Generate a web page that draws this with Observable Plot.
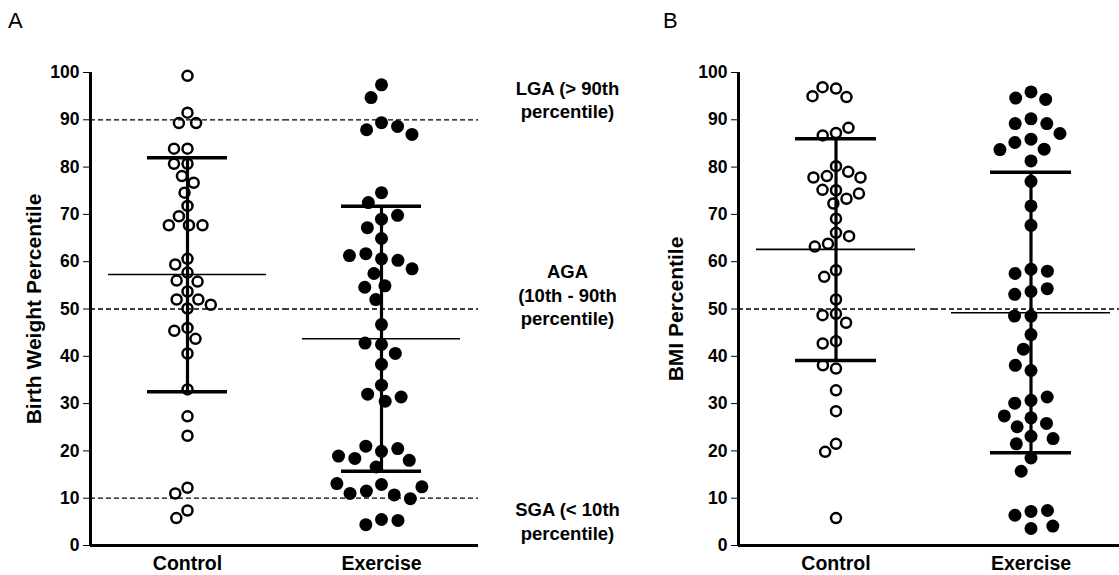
<!DOCTYPE html>
<html><head><meta charset="utf-8">
<script src="https://cdn.jsdelivr.net/npm/d3@7"></script>
<script src="https://cdn.jsdelivr.net/npm/@observablehq/plot@0.6"></script>
<style>
body{margin:0;background:#fff;width:1119px;height:575px;overflow:hidden;position:relative;font-family:'Liberation Sans',Arial,sans-serif}
.panel{position:absolute;top:0}
.panel svg{max-width:none !important}
.letter{position:absolute;font-size:22px;color:#000}
</style></head><body>
<div id="a" class="panel" style="left:0px;width:650px"></div>
<div id="b" class="panel" style="left:640px;width:490px"></div>
<div class="letter" style="left:8px;top:8px">A</div>
<div class="letter" style="left:663px;top:8px">B</div>
<script>
const groups = ["Control", "Exercise"];
const yTicks = [0, 10, 20, 30, 40, 50, 60, 70, 80, 90, 100];

// Panel A: birth weight percentile
const birthControl = [99.3, 91.5, 89.3, 89.3, 83.9, 83.9, 80.7, 80.7, 78.1, 76.7, 74.6, 71.8, 69.6,
  67.7, 67.7, 67.7, 60.6, 59.4, 57.7, 56.0, 55.8, 53.7, 52.0, 52.0, 50.9, 50.1, 46.0, 45.4, 43.7,
  40.6, 33.0, 27.3, 23.2, 12.2, 11.0, 7.4, 5.8];
const birthExercise = [97.4, 94.7, 89.4, 87.9, 88.6, 86.9, 74.6, 72.5, 69.0, 69.8, 67.2, 64.9, 60.6,
  61.7, 60.3, 61.3, 58.5, 57.5, 54.9, 54.6, 52.0, 46.7, 42.5, 42.8, 40.6, 38.3, 33.9, 32.0, 30.5,
  31.4, 19.9, 21.0, 20.5, 18.4, 18.0, 18.9, 16.6, 12.9, 11.5, 10.7, 9.9, 11.0, 12.4, 13.1, 5.5, 4.4, 5.3];
const birthMean = [57.3, 43.7];
const birthUpper = [82.0, 71.7];
const birthLower = [32.5, 15.7];
const birthRefLines = [90, 50, 10];
const zoneLabels = ["LGA (> 90th\npercentile)", "AGA\n(10th - 90th\npercentile)", "SGA (< 10th\npercentile)"];
const zoneLevels = [90, 50, 10];

// Panel B: BMI percentile
const bmiControl = [96.6, 96.9, 94.8, 95.0, 87.2, 86.7, 88.3, 80.2, 78.1, 79.0, 77.8, 77.8, 75.1, 75.2,
  73.3, 74.4, 72.3, 69.1, 66.1, 63.8, 65.4, 63.2, 58.2, 56.8, 52.0, 49.0, 48.7, 47.1, 43.2, 42.7,
  37.4, 38.1, 32.8, 28.4, 21.5, 19.8, 5.8];
const bmiExercise = [95.9, 94.6, 94.3, 90.2, 89.2, 89.2, 87.1, 85.9, 85.2, 83.8, 83.7, 81.3, 77.0, 71.8,
  67.7, 58.4, 57.5, 58.0, 53.7, 53.1, 54.3, 48.5, 48.5, 44.6, 41.5, 37.0, 38.1, 30.7, 30.1, 31.4,
  27.0, 25.1, 25.8, 27.4, 23.1, 21.5, 22.6, 18.5, 15.7, 7.2, 6.4, 7.4, 3.6, 4.1];
const bmiMean = [62.6, 49.2];
const bmiUpper = [86.0, 78.9];
const bmiLower = [39.1, 19.6];
const bmiRefLines = [50];

function panel({control, exercise, mean, upper, lower, refs, yLabel, width, marginLeft, marginRight, labelOffset, extra = []}) {
  const ctrlRows = control.map(v => ({group: groups[0], value: v}));
  const exRows = exercise.map(v => ({group: groups[1], value: v}));
  const stats = groups.map((g, i) => ({group: g, mean: mean[i], upper: upper[i], lower: lower[i]}));
  return Plot.plot({
    width, height: 575,
    marginTop: 72, marginBottom: 30, marginLeft, marginRight,
    style: {fontFamily: "'Liberation Sans', Arial, sans-serif", fontSize: "17.5px", fontWeight: "bold", color: "#000", background: "transparent", overflow: "visible"},
    x: {domain: [0, 1], axis: null},
    y: {domain: [0, 100], ticks: yTicks, tickSize: 7, tickPadding: 4, label: yLabel, labelArrow: "none", labelAnchor: "center", labelOffset},
    fx: {domain: groups, padding: 0, label: null, tickSize: 0, tickPadding: 11, axis: "bottom"},
    marks: [
      Plot.ruleY(refs, {strokeDasharray: "5,3", strokeWidth: 1.3}),
      Plot.dot(ctrlRows, Plot.dodgeX({anchor: "middle", padding: 3.5}, {fx: "group", y: "value", r: 5, fill: "none", stroke: "#000", strokeWidth: 2.5})),
      Plot.dot(exRows, Plot.dodgeX({anchor: "middle", padding: 3.5}, {fx: "group", y: "value", r: 6.5, fill: "#000", stroke: "none"})),
      Plot.ruleX(stats, {fx: "group", x: null, y1: "lower", y2: "upper", strokeWidth: 3.2}),
      Plot.ruleY(stats, {fx: "group", y: "upper", insetLeft: 57, insetRight: 57, strokeWidth: 3.5}),
      Plot.ruleY(stats, {fx: "group", y: "lower", insetLeft: 57, insetRight: 57, strokeWidth: 3.5}),
      Plot.ruleY(stats, {fx: "group", y: "mean", insetLeft: 18, insetRight: 18, strokeWidth: 1.6}),
      Plot.ruleY([0], {strokeWidth: 3}),
      Plot.ruleX([groups[0]], {fx: d => d, x: 0, strokeWidth: 3}),
      ...extra
    ]
  });
}

const zones = zoneLabels.map((label, i) => ({group: groups[1], level: zoneLevels[i], label}));
const zoneText = (i, dy) => Plot.text([zones[i]], {fx: "group", y: "level", text: "label", frameAnchor: "right", dx: 89, dy, lineHeight: 1.28, fontSize: 18.5, fontWeight: "bold", textAnchor: "middle"});

document.getElementById("a").append(panel({
  control: birthControl, exercise: birthExercise, mean: birthMean, upper: birthUpper, lower: birthLower,
  refs: birthRefLines, yLabel: "Birth Weight Percentile", width: 650, marginLeft: 90, marginRight: 172, labelOffset: 64,
  extra: [zoneText(0, -21), zoneText(1, -15), zoneText(2, 22)]
}));
document.getElementById("b").append(panel({
  control: bmiControl, exercise: bmiExercise, mean: bmiMean, upper: bmiUpper, lower: bmiLower,
  refs: bmiRefLines, yLabel: "BMI Percentile", width: 490, marginLeft: 98, marginRight: 2, labelOffset: 70
}));
for (const t of document.querySelectorAll('svg [aria-label="y-axis label"] text')) t.style.fontSize = "21px";
for (const t of document.querySelectorAll('svg [aria-label="fx-axis tick label"] text')) t.style.fontSize = "19.5px";
</script>
</body></html>
